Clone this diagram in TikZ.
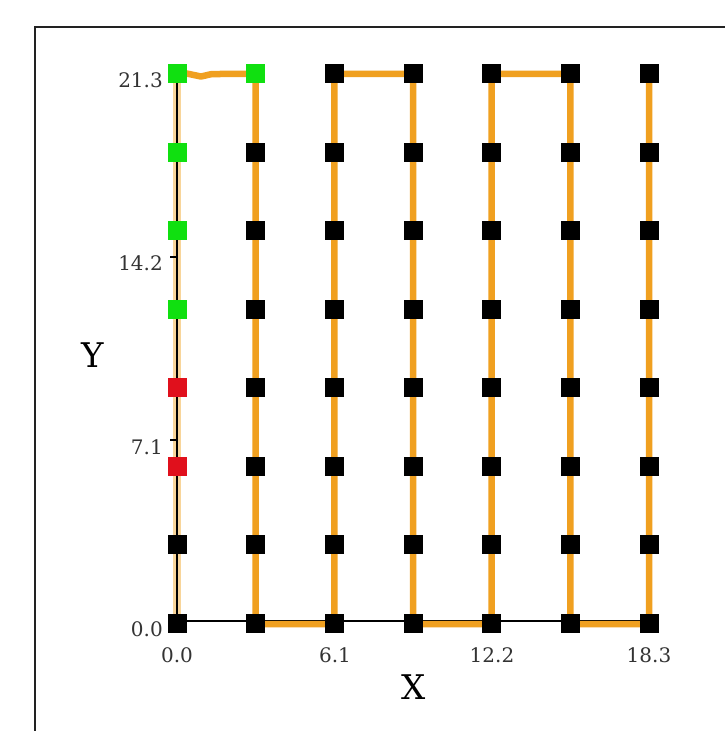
\documentclass[tikz,border=0pt]{standalone}
\usepackage{fontspec}
\setmainfont{DejaVu Serif}
\definecolor{pathorange}{HTML}{F0A020}
\definecolor{lightorange}{HTML}{F8D59A}
\definecolor{sqgreen}{HTML}{10E010}
\definecolor{sqred}{HTML}{E0101C}
\definecolor{framegray}{HTML}{222222}
\definecolor{ticktext}{HTML}{333333}
\begin{document}
\begin{tikzpicture}[x=1pt,y=-1pt,
  sq/.style={rectangle,minimum size=19pt,inner sep=0pt,fill=#1},
  sq/.default=black,
  route/.style={draw=pathorange,line width=6.5pt,line join=round},
  ticklab/.style={font=\fontsize{20}{20}\selectfont,text=ticktext,inner sep=0pt},
  axlab/.style={font=\fontsize{34}{34}\selectfont,text=black,inner sep=0pt},
  axisline/.style={draw=black,line width=1.8pt}]
\useasboundingbox[fill=white] (0,0) rectangle (725,731);
% frame
\draw[framegray,line width=2pt] (35,731) -- (35,27) -- (725,27);
% grid coordinates
\foreach \i in {0,...,6}{
  \foreach \j in {0,...,7}{
    \coordinate (p-\i-\j) at ({177+\i*78.667},{623-\j*78.43});
  }
}
\coordinate (k1) at (201,76.5);
\coordinate (k2) at (212,74);
% light orange under the y axis
\draw[draw=lightorange,line width=8pt] (p-0-0) -- (p-0-7);
% axes
\draw[axisline] ([yshift=2pt]p-0-0) -- ([yshift=2pt]p-6-0);
\draw[axisline] (p-0-0) -- (p-0-7);
% route
\draw[route] ([yshift=2.5pt]p-0-7) -- (k1) -- (k2) -- (p-1-7) -- ([yshift=-1pt]p-1-0) -- ([yshift=-1pt]p-2-0)
  -- (p-2-7) -- (p-3-7) -- ([yshift=-1pt]p-3-0) -- ([yshift=-1pt]p-4-0) -- (p-4-7) -- (p-5-7)
  -- ([yshift=-1pt]p-5-0) -- ([yshift=-1pt]p-6-0) -- (p-6-7);
% ticks
\foreach \j in {0,7}{
  \draw[black,line width=1.2pt] (p-0-\j) -- ++(-7,0);
}
\coordinate (ty1) at (177,440);
\coordinate (ty2) at (177,257);
\draw[black,line width=1.2pt] (ty1) -- ++(-7,0);
\draw[black,line width=1.2pt] (ty2) -- ++(-7,0);
\foreach \i in {0,2,4,6}{
  \draw[black,line width=1.2pt] ([yshift=2pt]p-\i-0) -- ++(0,7);
}
% tick labels
\node[ticklab,anchor=east] (ly0) at (163,629) {0.0};
\node[ticklab,anchor=east] (ly1) at (163,447) {7.1};
\node[ticklab,anchor=east] (ly2) at (163,263) {14.2};
\node[ticklab,anchor=east] (ly3) at (163,80) {21.3};
\node[ticklab] (lx0) at (177,655) {0.0};
\node[ticklab] (lx1) at (335,655) {6.1};
\node[ticklab] (lx2) at (492,655) {12.2};
\node[ticklab] (lx3) at (649,655) {18.3};
% axis labels
\node[axlab] (xl) at (414,687) {X};
\node[axlab] (yl) at (93,355) {Y};
% squares
\foreach \i in {0,...,6}{
  \foreach \j in {0,...,7}{
    \node[sq] (s-\i-\j) at (p-\i-\j) {};
  }
}
\foreach \j in {4,5,6,7}{ \node[sq=sqgreen] (g-\j) at (p-0-\j) {}; }
\node[sq=sqgreen] (g-t) at (p-1-7) {};
\node[sq=sqred] (r-2) at (p-0-2) {};
\node[sq=sqred] (r-3) at (p-0-3) {};
\end{tikzpicture}
\end{document}
